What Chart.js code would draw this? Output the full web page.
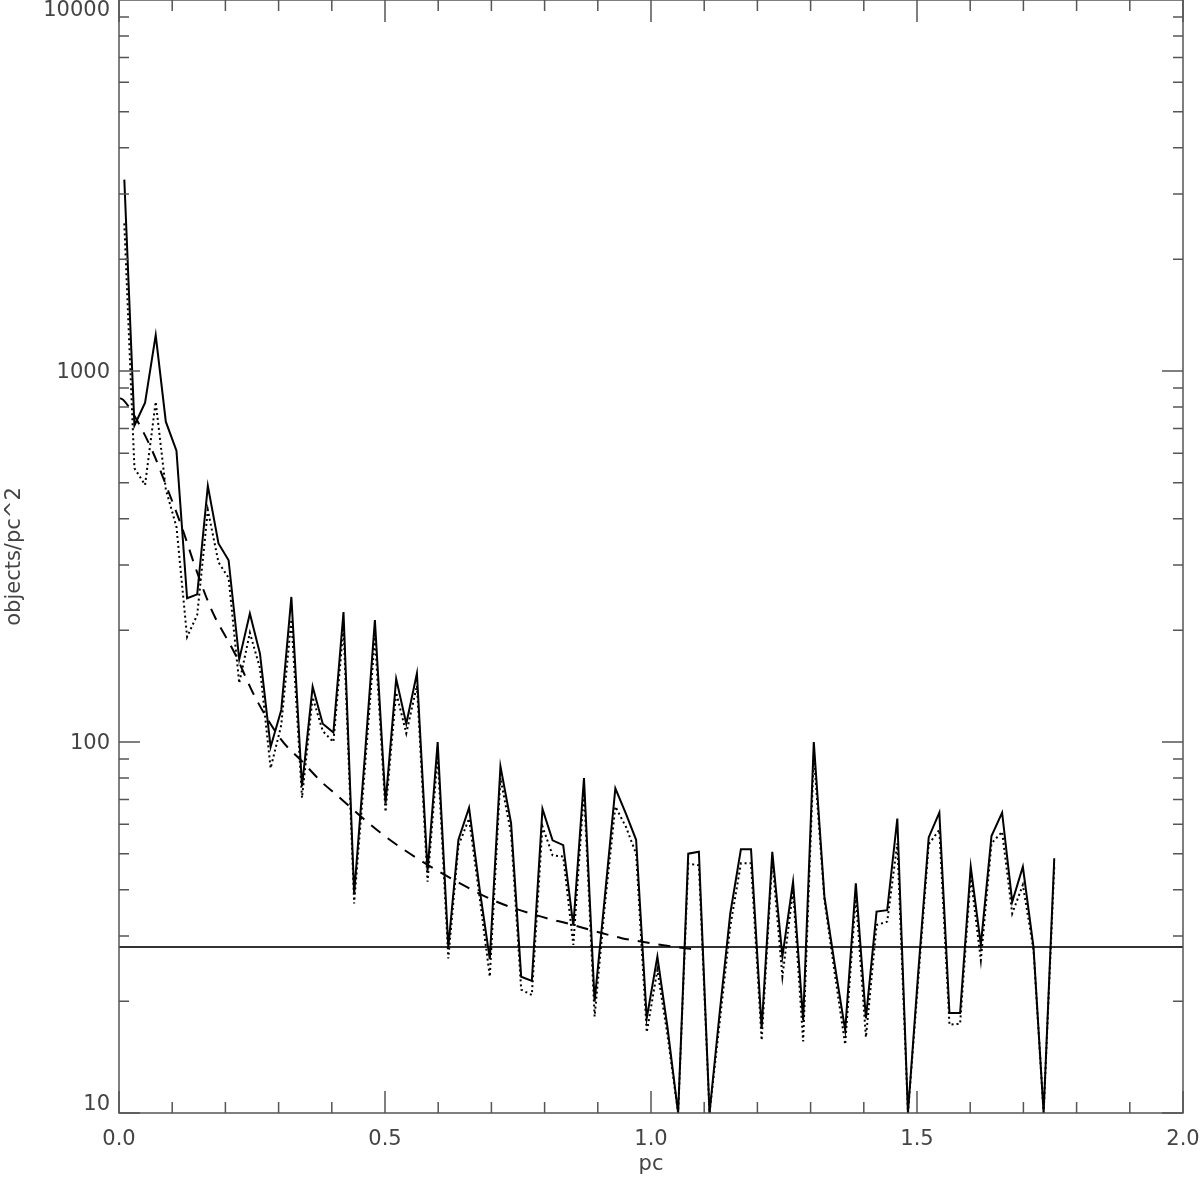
<!DOCTYPE html>
<html>
<head>
<meta charset="utf-8">
<script src="https://cdn.jsdelivr.net/npm/chart.js@4/dist/chart.umd.min.js"></script>
<style>
  html, body { margin: 0; padding: 0; background: #fff; }
  #wrap { width: 1200px; height: 1181px; }
</style>
</head>
<body>
<div id="wrap"><canvas id="profile"></canvas></div>
<script>
// bin centres (pc)
const radius = [
  0.010, 0.029, 0.049, 0.069, 0.088, 0.108, 0.128, 0.147, 0.167, 0.187,
  0.206, 0.226, 0.246, 0.265, 0.285, 0.305, 0.324, 0.344, 0.364, 0.383,
  0.403, 0.422, 0.442, 0.462, 0.481, 0.501, 0.521, 0.540, 0.560, 0.580,
  0.599, 0.619, 0.638, 0.658, 0.678, 0.697, 0.717, 0.737, 0.756, 0.776,
  0.796, 0.815, 0.835, 0.854, 0.874, 0.894, 0.913, 0.933, 0.953, 0.972,
  0.992, 1.012, 1.031, 1.051, 1.070, 1.090, 1.110, 1.129, 1.149, 1.169,
  1.188, 1.208, 1.228, 1.247, 1.267, 1.286, 1.306, 1.326, 1.345, 1.365,
  1.385, 1.404, 1.424, 1.444, 1.463, 1.483, 1.502, 1.522, 1.542, 1.561,
  1.581, 1.601, 1.620, 1.640, 1.660, 1.679, 1.699, 1.719, 1.738, 1.758
];

// solid profile (objects/pc^2)
const densityAll = [
  3280, 713, 822, 1250, 730, 610, 244, 250, 490, 343,
  309, 167, 222, 173, 97, 122, 246, 76, 141, 112,
  106, 224, 39, 91, 213, 68.4, 148, 112, 153, 45,
  100, 28, 54.5, 66.5, 40, 26, 86, 60.4, 23.3, 22.7,
  66, 54.3, 52.7, 32, 80, 20, 38, 75, 64, 54.5,
  18, 26.4, 17, 10, 50, 50.6, 10, 18.6, 34.5, 51.4,
  51.4, 16.9, 50.6, 26.4, 42, 17.8, 100, 38.3, 25.3, 16.7,
  41.6, 18, 34.9, 35.2, 62.2, 10, 23.6, 55.3, 64.5, 18.6,
  18.6, 46.1, 28.4, 55.8, 64.5, 37.1, 46.1, 28, 10, 48.6
];

// dotted profile
const densitySub = [
  2500, 547, 493, 826, 480, 380, 192, 220, 422, 305,
  277, 144, 197, 158, 85, 111, 214, 70.7, 132, 107,
  100, 204, 36.7, 84, 192, 64.8, 136, 105.5, 142, 42,
  92, 26.1, 52.5, 62.2, 38, 23.3, 80, 56.6, 21.5, 20.8,
  59.2, 49.5, 49.1, 28.4, 74, 18.2, 36, 67, 59, 50,
  16.5, 24.3, 16.2, 10, 47, 46.5, 10, 17.5, 31.8, 47.1,
  47.1, 15.7, 48.1, 23.3, 39.9, 15.6, 92.2, 37.5, 24, 15.3,
  38.3, 16, 32.1, 32.8, 53.3, 10, 22.5, 53, 58, 17.3,
  17.4, 43.4, 25.8, 53.3, 57.3, 34.5, 41.2, 27.5, 10, 46
];

// dashed fit curve
const fitRadius = [0.002, 0.008, 0.030, 0.062, 0.087, 0.118, 0.143, 0.174, 0.218, 0.256,
                   0.306, 0.343, 0.381, 0.409, 0.491, 0.566, 0.641, 0.710, 0.804, 0.844,
                   0.898, 0.945, 0.992, 1.039, 1.090];
const fitValues = [845, 836, 753, 612, 498, 380, 297, 227, 173, 132,
                   101, 89, 78, 72, 57, 48, 41.6, 37.1, 33.5, 32.4,
                   30.8, 29.6, 28.8, 28.1, 27.5];

// background level
const bgRadius = [0, 2];
const bgLevel = [28, 28];

const xTicks = [0, 0.5, 1.0, 1.5, 2.0];
const yTickLabels = [10, 100, 1000, 10000];

const pts = (xs, ys) => xs.map((v, k) => ({ x: v, y: ys[k] }));
const labelFont = '21px "DejaVu Sans", sans-serif';

const idlAxes = {
  id: 'idlAxes',
  afterDatasetsDraw(chart) {
    const { ctx, chartArea: a, scales: { x, y } } = chart;
    ctx.save();
    ctx.strokeStyle = '#555';
    ctx.lineWidth = 1.5;
    ctx.strokeRect(a.left, a.top, a.right - a.left, a.bottom - a.top);
    ctx.beginPath();
    for (let k = 0; k <= 20; k++) {
      const px = x.getPixelForValue(k / 10);
      const len = k % 5 === 0 ? 22 : 11;
      ctx.moveTo(px, a.bottom); ctx.lineTo(px, a.bottom - len);
      ctx.moveTo(px, a.top); ctx.lineTo(px, a.top + len);
    }
    for (let d = 10; d < 10000; d *= 10) {
      for (let m = 1; m <= 9; m++) {
        const py = y.getPixelForValue(d * m);
        const len = m === 1 ? 21 : 10;
        ctx.moveTo(a.left, py); ctx.lineTo(a.left + len, py);
        ctx.moveTo(a.right, py); ctx.lineTo(a.right - len, py);
      }
    }
    ctx.stroke();

    ctx.fillStyle = '#444';
    ctx.font = labelFont;
    ctx.textAlign = 'right';
    ctx.textBaseline = 'middle';
    yTickLabels.forEach(v => {
      let py = y.getPixelForValue(v) + 2;
      py = Math.min(Math.max(py, a.top + 11), a.bottom - 8);
      ctx.fillText(String(v), a.left - 9, py);
    });
    ctx.restore();
  }
};

new Chart(document.getElementById('profile'), {
  type: 'line',
  data: {
    datasets: [
      { data: pts(radius, densityAll), borderColor: '#000', borderWidth: 2, pointRadius: 0, tension: 0 },
      { data: pts(radius, densitySub), borderColor: '#000', borderWidth: 2, borderDash: [2, 3], pointRadius: 0, tension: 0 },
      { data: pts(fitRadius, fitValues), borderColor: '#000', borderWidth: 2, borderDash: [12, 9], pointRadius: 0, cubicInterpolationMode: 'monotone' },
      { data: pts(bgRadius, bgLevel), borderColor: '#333', borderWidth: 2, pointRadius: 0 }
    ]
  },
  options: {
    responsive: true,
    maintainAspectRatio: false,
    animation: false,
    devicePixelRatio: 1,
    layout: { padding: { left: 0, right: 17, top: 0, bottom: 0 } },
    plugins: { legend: { display: false }, tooltip: { enabled: false } },
    scales: {
      x: {
        type: 'linear',
        min: 0, max: 2,
        grid: { display: false, drawTicks: false },
        border: { display: false },
        afterBuildTicks: s => { s.ticks = xTicks.map(v => ({ value: v })); },
        afterFit: s => { s.height = 68; s.paddingLeft = 0; s.paddingRight = 0; },
        ticks: {
          autoSkip: false, maxRotation: 0, padding: 14,
          color: '#444', font: { family: '"DejaVu Sans", sans-serif', size: 21 },
          callback: v => Number(v).toFixed(1)
        },
        title: {
          display: true, text: 'pc', color: '#444',
          font: { family: '"DejaVu Sans", sans-serif', size: 21 },
          padding: { top: 0, bottom: 4 }
        }
      },
      y: {
        type: 'logarithmic',
        min: 10, max: 10000,
        grid: { display: false, drawTicks: false },
        border: { display: false },
        ticks: { display: false },
        afterFit: s => { s.width = 119; s.paddingTop = 0; s.paddingBottom = 0; },
        title: {
          display: true, text: 'objects/pc^2', color: '#444',
          font: { family: '"DejaVu Sans", sans-serif', size: 21 },
          padding: { top: 2, bottom: 0 }
        }
      }
    }
  },
  plugins: [idlAxes]
});
</script>
</body>
</html>
